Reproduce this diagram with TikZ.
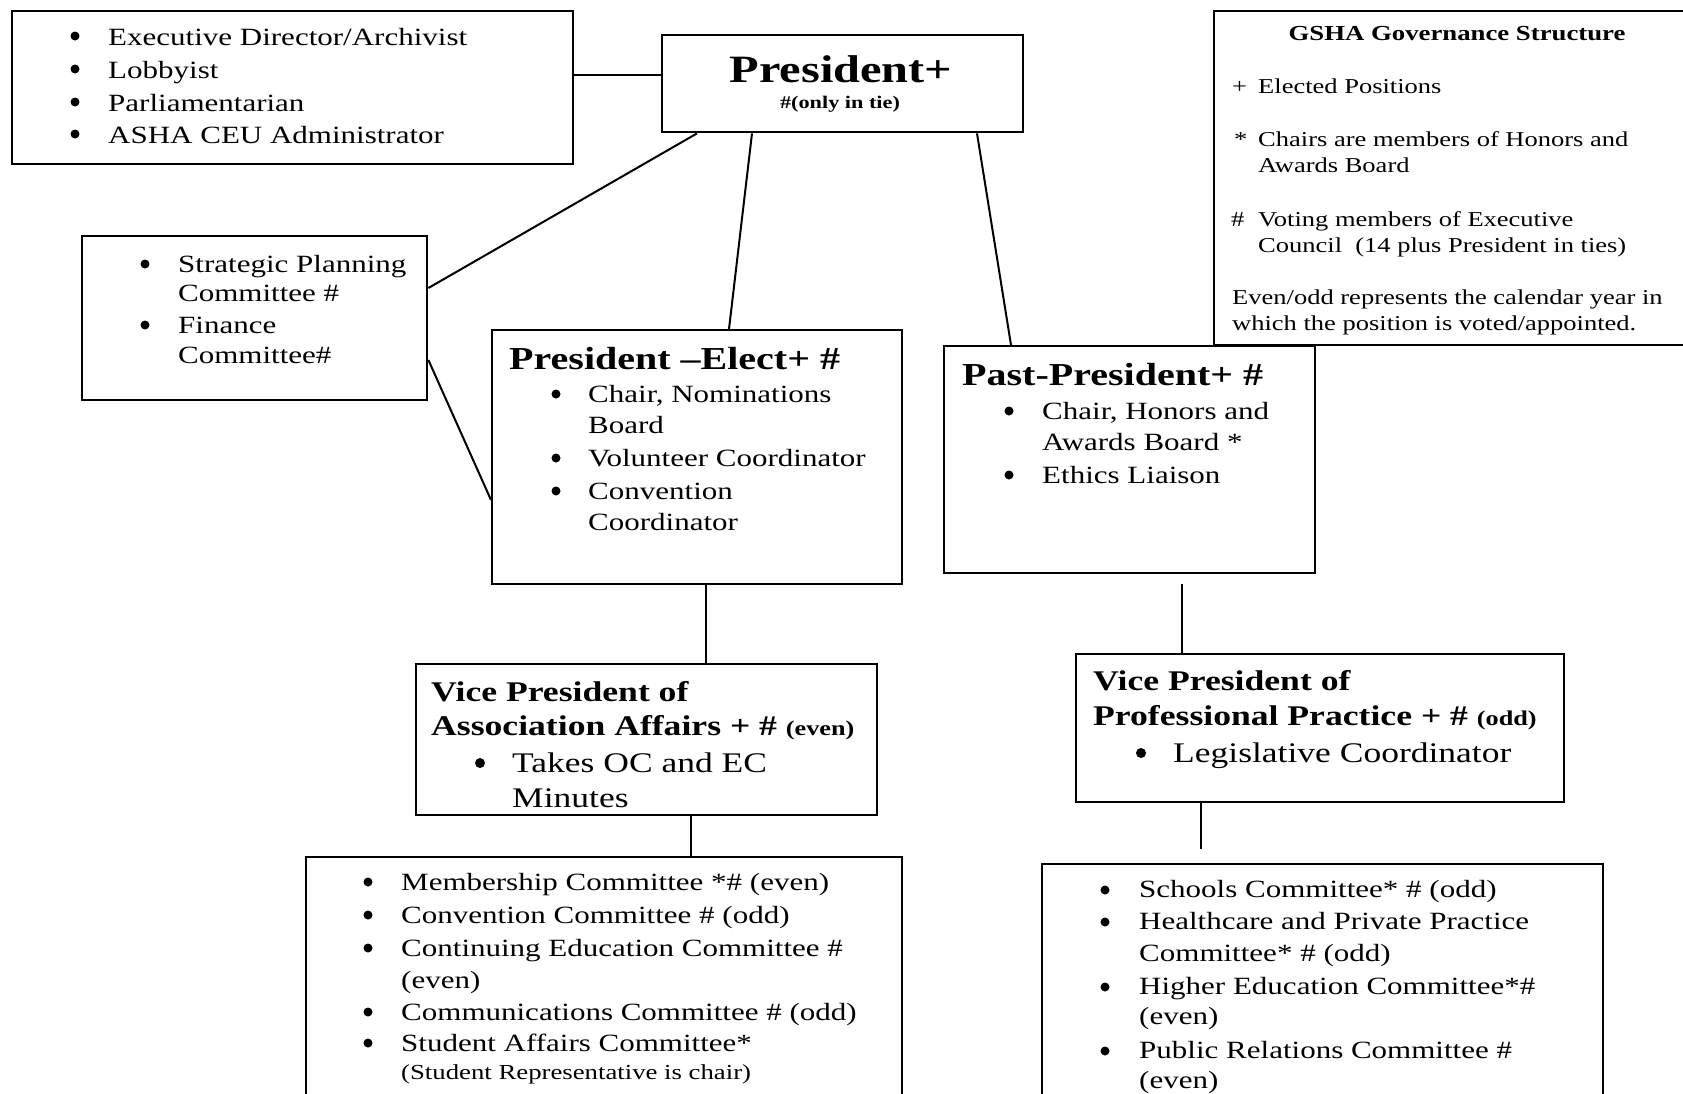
\documentclass[tikz,border=0pt]{standalone}
\usepackage{fontspec}
\setmainfont{Liberation Serif}[FakeStretch=1.25]
\usetikzlibrary{calc}
\tikzset{
  box/.style={draw=black, line width=2.4pt, inner sep=0pt, anchor=north west},
  conn/.style={draw=black, line width=2pt},
  dot/.style={circle, fill=black, inner sep=0pt, minimum size=9pt},
  bigdot/.style={circle, fill=black, inner sep=0pt, minimum size=10pt},
  txt/.style={inner sep=0pt, anchor=base west, font=\fontsize{24.8}{28}\selectfont},
  vtxt/.style={inner sep=0pt, anchor=base west, font=\fontsize{28.4}{32}\selectfont},
  hd/.style={inner sep=0pt, anchor=base west, font=\bfseries\fontsize{32}{36}\selectfont},
  vhd/.style={inner sep=0pt, anchor=base west, font=\bfseries\fontsize{28.5}{32}\selectfont},
  leg/.style={inner sep=0pt, anchor=base west, font=\fontsize{21.2}{24}\selectfont},
  note/.style={inner sep=0pt, anchor=base west, font=\fontsize{21.4}{24}\selectfont},
}
\newcommand{\smb}[1]{{\fontsize{21}{24}\selectfont #1}}
\begin{document}
\begin{tikzpicture}[x=1pt,y=-1pt]
\clip (0,0) rectangle (1683,1093);
\fill[white] (0,0) rectangle (1683,1093);

% ---------- boxes ----------
\node[box, minimum width=561, minimum height=153] (tl) at (11,10) {};
\node[box, minimum width=361, minimum height=97] (pres) at (661,34) {};
\node[box, minimum width=520, minimum height=334] (leg) at (1213,10) {};
\node[box, minimum width=345, minimum height=164] (strat) at (81,235) {};
\node[box, minimum width=410, minimum height=254] (pe) at (491,329) {};
\node[box, minimum width=371, minimum height=227] (past) at (943,345) {};
\node[box, minimum width=461, minimum height=151] (vpa) at (415,663) {};
\node[box, minimum width=488, minimum height=148] (vpp) at (1075,653) {};
\node[box, minimum width=596, minimum height=300] (bl) at (305,856) {};
\node[box, minimum width=561, minimum height=300] (br) at (1041,863) {};

% ---------- connectors ----------
\draw[conn] ($(tl.north east)+(0,65)$) -- ($(pres.north west)+(0,41)$);
\draw[conn] ($(pres.south west)+(36,0)$) -- ($(strat.north east)+(0,53)$);
\draw[conn] ($(pres.south west)+(91,0)$) -- ($(pe.north west)+(238,0)$);
\draw[conn] ($(pres.south west)+(316,0)$) -- ($(past.north west)+(68,0)$);
\draw[conn] ($(strat.north east)+(0,125)$) -- ($(pe.north west)+(0,171)$);
\draw[conn] ($(pe.south west)+(215,0)$) -- ($(vpa.north west)+(291,0)$);
\coordinate (pastfree) at ($(past.south west)+(239,10)$);
\draw[conn] (pastfree) -- ($(vpp.north west)+(107,0)$);
\draw[conn] ($(vpa.south west)+(276,0)$) -- ($(bl.north west)+(386,0)$);
\coordinate (vppfree) at ($(vpp.south west)+(126,46)$);
\draw[conn] ($(vpp.south west)+(126,0)$) -- (vppfree);

% ---------- top-left box ----------
\node[dot] (tlb1) at (75,36) {};
\node[dot] (tlb2) at (75,69) {};
\node[dot] (tlb3) at (75,102) {};
\node[dot] (tlb4) at (75,134) {};
\node[txt] (tl1) at (108,45) {Executive Director/Archivist};
\node[txt] (tl2) at (108,78) {Lobbyist};
\node[txt] (tl3) at (108,111) {Parliamentarian};
\node[txt] (tl4) at (108,143) {ASHA CEU Administrator};

% ---------- president ----------
\node[inner sep=0pt, anchor=base, font=\bfseries\fontsize{38.7}{42}\selectfont] (pres1) at (841,82) {President+};
\node[inner sep=0pt, anchor=base, font=\bfseries\fontsize{17.8}{20}\selectfont] (pres2) at (840,108) {\#(only in tie)};

% ---------- legend ----------
\node[inner sep=0pt, anchor=base, font=\bfseries\fontsize{21.4}{24}\selectfont] (leg0) at (1457,40) {GSHA Governance Structure};
\node[leg] (legs1) at (1232,93) {+};
\node[leg] (leg1) at (1258,93) {Elected Positions};
\node[leg] (legs2) at (1234,146) {*};
\node[leg] (leg2) at (1258,146) {Chairs are members of Honors and};
\node[leg] (leg3) at (1258,172) {Awards Board};
\node[leg] (legs3) at (1231,226) {\#};
\node[leg] (leg4) at (1258,226) {Voting members of Executive};
\node[leg] (leg5) at (1258,252) {Council\ \ (14 plus President in ties)};
\node[leg] (leg6) at (1232,304) {Even/odd represents the calendar year in};
\node[leg] (leg7) at (1232,330) {which the position is voted/appointed.};

% ---------- strategic ----------
\node[dot] (stb1) at (145,264) {};
\node[dot] (stb2) at (145,325) {};
\node[txt] (st1) at (178,272) {Strategic Planning};
\node[txt] (st2) at (178,301) {Committee \#};
\node[txt] (st3) at (178,333) {Finance};
\node[txt] (st4) at (178,363) {Committee\#};

% ---------- president-elect ----------
\node[hd] (pe0) at (509,369) {President –Elect+ \#};
\node[dot] (peb1) at (556,394) {};
\node[dot] (peb2) at (556,458) {};
\node[dot] (peb3) at (556,491) {};
\node[txt] (pe1) at (588,402) {Chair, Nominations};
\node[txt] (pe2) at (588,433) {Board};
\node[txt] (pe3) at (588,466) {Volunteer Coordinator};
\node[txt] (pe4) at (588,499) {Convention};
\node[txt] (pe5) at (588,530) {Coordinator};

% ---------- past-president ----------
\node[hd] (pp0) at (962,385) {Past-President+ \#};
\node[dot] (ppb1) at (1009,411) {};
\node[dot] (ppb2) at (1009,475) {};
\node[txt] (pp1) at (1042,419) {Chair, Honors and};
\node[txt] (pp2) at (1042,450) {Awards Board *};
\node[txt] (pp3) at (1042,483) {Ethics Liaison};

% ---------- VP association affairs ----------
\node[vhd] (va0) at (431,701) {Vice President of};
\node[vhd] (va1) at (431,735) {Association Affairs + \# \smb{(even)}};
\node[bigdot] (vab1) at (480,763) {};
\node[vtxt] (va2) at (512,772) {Takes OC and EC};
\node[vtxt] (va3) at (512,807) {Minutes};

% ---------- VP professional practice ----------
\node[vhd] (vp0) at (1093,690) {Vice President of};
\node[vhd] (vp1) at (1093,725) {Professional Practice + \# \smb{(odd)}};
\node[bigdot] (vpb1) at (1141,753) {};
\node[vtxt] (vp2) at (1173,762) {Legislative Coordinator};

% ---------- bottom-left committees ----------
\node[dot] (blb1) at (368,882) {};
\node[dot] (blb2) at (368,915) {};
\node[dot] (blb3) at (368,948) {};
\node[dot] (blb4) at (368,1012) {};
\node[dot] (blb5) at (368,1043) {};
\node[txt] (bl1) at (401,890) {Membership Committee *\# (even)};
\node[txt] (bl2) at (401,923) {Convention Committee \# (odd)};
\node[txt] (bl3) at (401,956) {Continuing Education Committee \#};
\node[txt] (bl4) at (401,988) {(even)};
\node[txt] (bl5) at (401,1020) {Communications Committee \# (odd)};
\node[txt] (bl6) at (401,1051) {Student Affairs Committee*};
\node[note] (bl7) at (401,1079) {(Student Representative is chair)};

% ---------- bottom-right committees ----------
\node[dot] (brb1) at (1105,890) {};
\node[dot] (brb2) at (1105,922) {};
\node[dot] (brb3) at (1105,987) {};
\node[dot] (brb4) at (1105,1051) {};
\node[txt] (br1) at (1139,897) {Schools Committee* \# (odd)};
\node[txt] (br2) at (1139,929) {Healthcare and Private Practice};
\node[txt] (br3) at (1139,961) {Committee* \# (odd)};
\node[txt] (br4) at (1139,994) {Higher Education Committee*\#};
\node[txt] (br5) at (1139,1024) {(even)};
\node[txt] (br6) at (1139,1058) {Public Relations Committee \#};
\node[txt] (br7) at (1139,1088) {(even)};
\end{tikzpicture}
\end{document}
